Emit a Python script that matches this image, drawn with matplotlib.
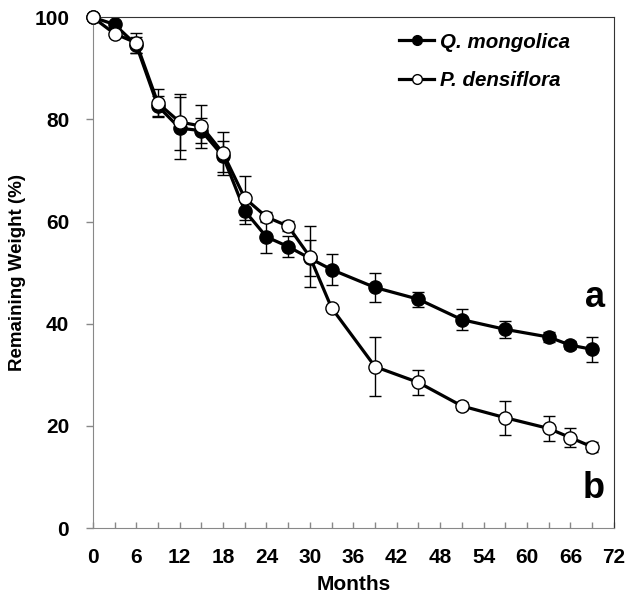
import numpy as np
import matplotlib.pyplot as plt
from matplotlib.lines import Line2D

months_q = [0, 3, 6, 9, 12, 15, 18, 21, 24, 27, 30, 33, 39, 45, 51, 57, 63, 66, 69]
q_weight = [100, 98.6, 94.6, 82.6, 78.3, 77.8, 72.8, 62.1, 57.0, 55.1, 52.8, 50.6, 47.1, 44.8, 40.8, 38.9, 37.4, 35.8, 35.0]
q_err = [0, 0.5, 1.5, 2.0, 6.0, 2.5, 3.0, 2.5, 3.2, 2.0, 3.5, 3.0, 2.9, 1.5, 2.1, 1.7, 1.0, 0.8, 2.4]

months_p = [0, 3, 6, 9, 12, 15, 18, 21, 24, 27, 30, 33, 39, 45, 51, 57, 63, 66, 69]
p_weight = [100, 96.8, 95.0, 83.2, 79.5, 78.7, 73.4, 64.6, 60.9, 59.1, 53.1, 43.1, 31.6, 28.5, 23.9, 21.6, 19.5, 17.7, 15.9]
p_err = [0, 0.5, 2.0, 2.8, 5.5, 4.2, 4.2, 4.3, 1.0, 1.0, 6.0, 0.5, 5.8, 2.5, 0.8, 3.3, 2.5, 1.9, 1.0]

xticks = np.arange(0, 73, 6)
yticks = np.arange(0, 101, 20)

plt.rcParams['font.family'] = ['Liberation Sans', 'DejaVu Sans']
plt.rcParams['font.weight'] = 'bold'

fig = plt.figure(figsize=(6.27, 5.96), dpi=100)
ax = fig.add_axes([0.148, 0.114, 0.831, 0.857])

eb_q = ax.errorbar(months_q, q_weight, yerr=q_err, color='black', lw=2.3, marker='o', ms=9.5,
                   mfc='black', mec='black', mew=1.0, ecolor='black', elinewidth=1.0, capsize=4,
                   capthick=1.0, zorder=2)
eb_p = ax.errorbar(months_p, p_weight, yerr=p_err, color='black', lw=2.3, marker='o', ms=9.5,
                   mfc='white', mec='black', mew=1.0, ecolor='black', elinewidth=1.0, capsize=4,
                   capthick=1.0, zorder=3)
for eb in [eb_q, eb_p]:
    eb.lines[0].set_clip_on(False)

ax.set_xlim(0, 72)
ax.set_ylim(0, 100)
ax.set_xticks(xticks)
ax.set_xticks(np.arange(3, 72, 6), minor=True)
ax.set_yticks(yticks)
ax.tick_params(axis='x', which='both', direction='in', length=4, width=1, color='#888888',
               labelsize=15, pad=14)
ax.tick_params(axis='y', direction='out', length=5, width=1, color='#888888', labelsize=15, pad=12)
for lab in ax.get_xticklabels() + ax.get_yticklabels():
    lab.set_fontweight('bold')

for s in ['left', 'bottom']:
    ax.spines[s].set_color('#888888')
for s in ['top', 'right']:
    ax.spines[s].set_color('#333333')

ax.set_xlabel('Months', fontsize=15, fontweight='bold', labelpad=6)
ax.set_ylabel('Remaining Weight (%)', fontsize=13.5, fontweight='bold', labelpad=6)

handles = [
    Line2D([], [], color='black', lw=2.3, marker='o', ms=7, mfc='black', mec='black', mew=1.0),
    Line2D([], [], color='black', lw=2.3, marker='o', ms=7, mfc='white', mec='black', mew=1.0),
]
leg = ax.legend(handles, ['Q. mongolica', 'P. densiflora'], loc='upper left',
                bbox_to_anchor=(0.572, 0.986), frameon=False, fontsize=14.8,
                handlelength=1.7, handletextpad=0.3, labelspacing=0.95, borderaxespad=0)
for t in leg.get_texts():
    t.set_fontstyle('italic')
    t.set_fontweight('bold')

ax.text(0.983, 0.4325, 'a', transform=ax.transAxes, ha='right', va='baseline', fontsize=26,
        fontweight='bold')
ax.text(0.983, 0.0587, 'b', transform=ax.transAxes, ha='right', va='baseline', fontsize=26,
        fontweight='bold')

fig.savefig('out.png', dpi=100)
